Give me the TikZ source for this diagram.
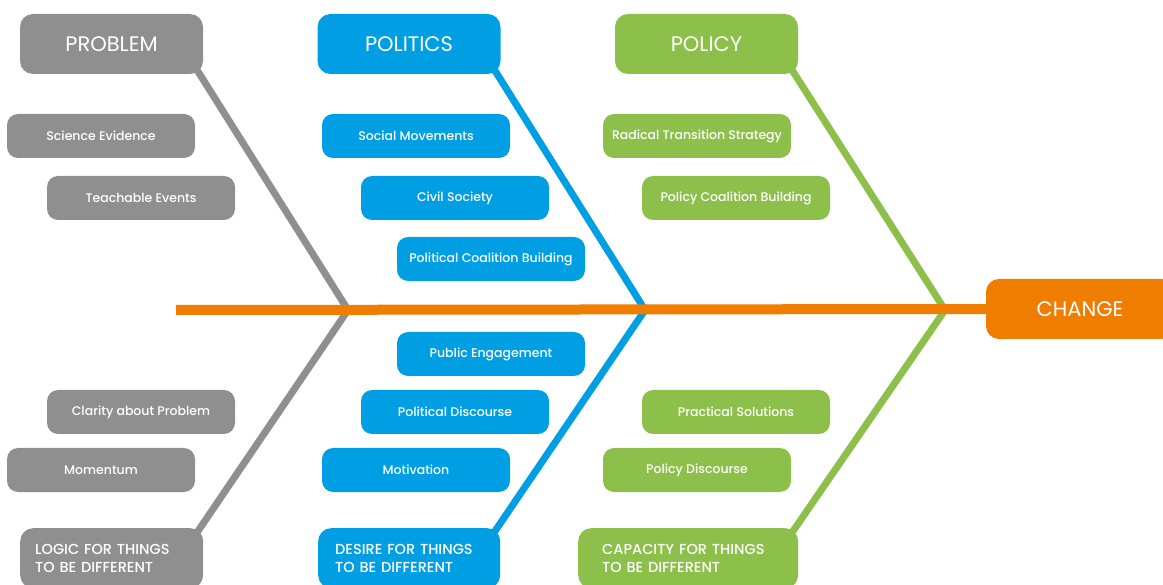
\documentclass[tikz,border=0pt]{standalone}
\usepackage{fontspec}
\setmainfont{Poppins}
\newfontfamily\medfont{Poppins Medium}
\usetikzlibrary{backgrounds,calc}
\definecolor{probgrey}{HTML}{8F8F8F}
\definecolor{polblue}{HTML}{009FE3}
\definecolor{polgreen}{HTML}{8DC04B}
\definecolor{chorange}{HTML}{EF7D00}
\begin{document}
\begin{tikzpicture}[x=1pt,y=-1pt,
  head/.style={fill=#1,rounded corners=13pt,minimum width=183pt,minimum height=60pt,
    inner sep=0pt,text=white,font=\fontsize{21}{24}\selectfont},
  item/.style={fill=#1,rounded corners=11pt,minimum width=188pt,minimum height=44pt,
    inner sep=0pt,text=white,font=\medfont\fontsize{12.5}{14}\selectfont},
  foot/.style={fill=#1,rounded corners=13pt,minimum height=60pt,anchor=north west,
    inner ysep=0pt,align=left,text=white,font=\medfont\fontsize{14.5}{18}\selectfont},
  bone/.style={draw=#1,line width=7pt}]
  \useasboundingbox (0,0) rectangle (1163,585);
  \clip (0,0) rectangle (1163,585);
  % heads and tails of the fish
  \node[head=probgrey] (problem) at (111.5,44) {PROBLEM};
  \node[head=polblue] (politics) at (409,44) {POLITICS};
  \node[head=polgreen] (policy) at (706.5,44) {POLICY};
  \node[head=chorange,minimum width=188pt] (change) at (1080,309) {CHANGE};
  \node[foot=probgrey,inner xsep=15pt,text width=153pt] (logic) at (20,528)
    {LOGIC FOR THINGS\\TO BE DIFFERENT};
  \node[foot=polblue,inner xsep=17pt,text width=148pt] (desire) at (318,528)
    {DESIRE FOR THINGS\\TO BE DIFFERENT};
  \node[foot=polgreen,inner xsep=24pt,text width=172pt] (capacity) at (578,528)
    {CAPACITY FOR THINGS\\TO BE DIFFERENT};
  % the items
  \foreach \n/\x/\y/\c/\t in {sci/101/136/probgrey/Science Evidence,
      teach/141/198/probgrey/Teachable Events,
      clar/141/412/probgrey/Clarity about Problem,
      mom/101/470/probgrey/Momentum,
      soc/416/136/polblue/Social Movements,
      civ/455/198/polblue/Civil Society,
      pcb/491/259/polblue/Political Coalition Building,
      pub/491/354/polblue/Public Engagement,
      pdis/455/412/polblue/Political Discourse,
      mot/416/470/polblue/Motivation,
      rad/697/136/polgreen/Radical Transition Strategy,
      ycb/736/198/polgreen/Policy Coalition Building,
      prac/736/412/polgreen/Practical Solutions,
      ydis/697/470/polgreen/Policy Discourse}{
    \node[item=\c] (\n) at (\x,\y) {\t};
  }
  \coordinate (tail) at (176,310);
  \coordinate (jprob) at (348,310);
  \coordinate (jpol) at (645,310);
  \coordinate (jpoly) at (945,310);
  \begin{scope}[on background layer]
    \foreach \h/\j/\f/\c in {problem/jprob/logic/probgrey,politics/jpol/desire/polblue,
        policy/jpoly/capacity/polgreen}{
      \draw[bone=\c] ($(\h.south east)+(-6,-4)$) -- (\j) -- ($(\f.north east)+(-6,4)$);
    }
    \draw[chorange,line width=10pt] (tail) -- (change.west);
  \end{scope}
\end{tikzpicture}
\end{document}
